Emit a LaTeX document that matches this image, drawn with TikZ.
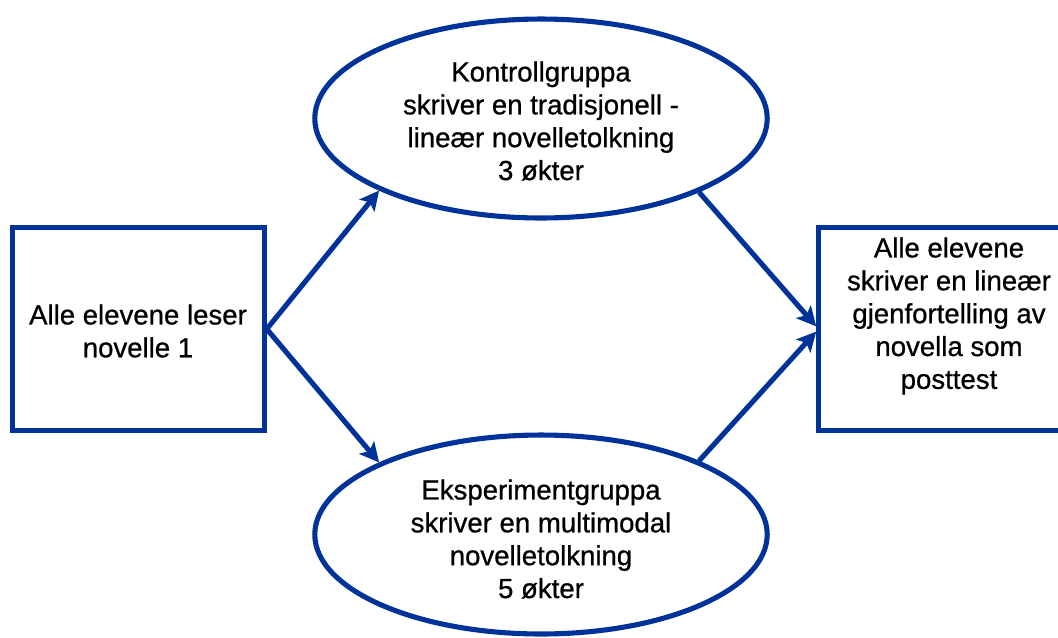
\documentclass[tikz,border=0pt]{standalone}
\usepackage{fontspec}
\setmainfont[UprightFeatures={FakeBold=0.8}]{Liberation Sans}
\usetikzlibrary{shapes.geometric,arrows.meta}
\definecolor{mork}{RGB}{0,51,153}

\begin{document}
\begin{tikzpicture}[x=0.02cm, y=-0.02cm, line width=2.9pt,
    >={Stealth[length=11pt,width=11pt,inset=2.5pt]},
    boks/.style={draw=mork, minimum width=5.03cm, minimum height=4.05cm, inner sep=0pt},
    gruppe/.style={draw=mork, ellipse, minimum width=9.05cm, minimum height=3.98cm, inner sep=0pt},
    tekst/.style={align=center, font=\fontsize{15.7}{18.7}\selectfont, inner sep=0pt},
    pil/.style={->, draw=mork}]
    \useasboundingbox (0,0) rectangle (1058,637);
    % pretest and posttest boxes
    \node[boks] (les) at (138.5,329) {};
    \node[tekst] (lestekst) at (138,331) {Alle elevene leser\\novelle 1};
    \node[boks] (post) at (944.5,329) {};
    \node[tekst] (posttekst) at (949,316) {Alle elevene\\skriver en lineær\\gjenfortelling av\\novella som\\posttest};
    % the two groups
    \node[gruppe] (kontroll) at (541,118.5) {};
    \node[tekst] (kontrolltekst) at (541,121) {Kontrollgruppa\\skriver en tradisjonell -\\lineær novelletolkning\\3 økter};
    \node[gruppe] (eksperiment) at (541,534.5) {};
    \node[tekst] (eksperimenttekst) at (541,539) {Eksperimentgruppa\\skriver en multimodal\\novelletolkning\\5 økter};
    % arrows
    \draw[pil] (les.east) -- (kontroll.204);
    \draw[pil] (les.east) -- (eksperiment.156);
    \draw[pil] (kontroll.335) -- ([yshift=1.5pt]post.west);
    \draw[pil] (eksperiment.25) -- ([yshift=-1.5pt]post.west);
\end{tikzpicture}
\end{document}
